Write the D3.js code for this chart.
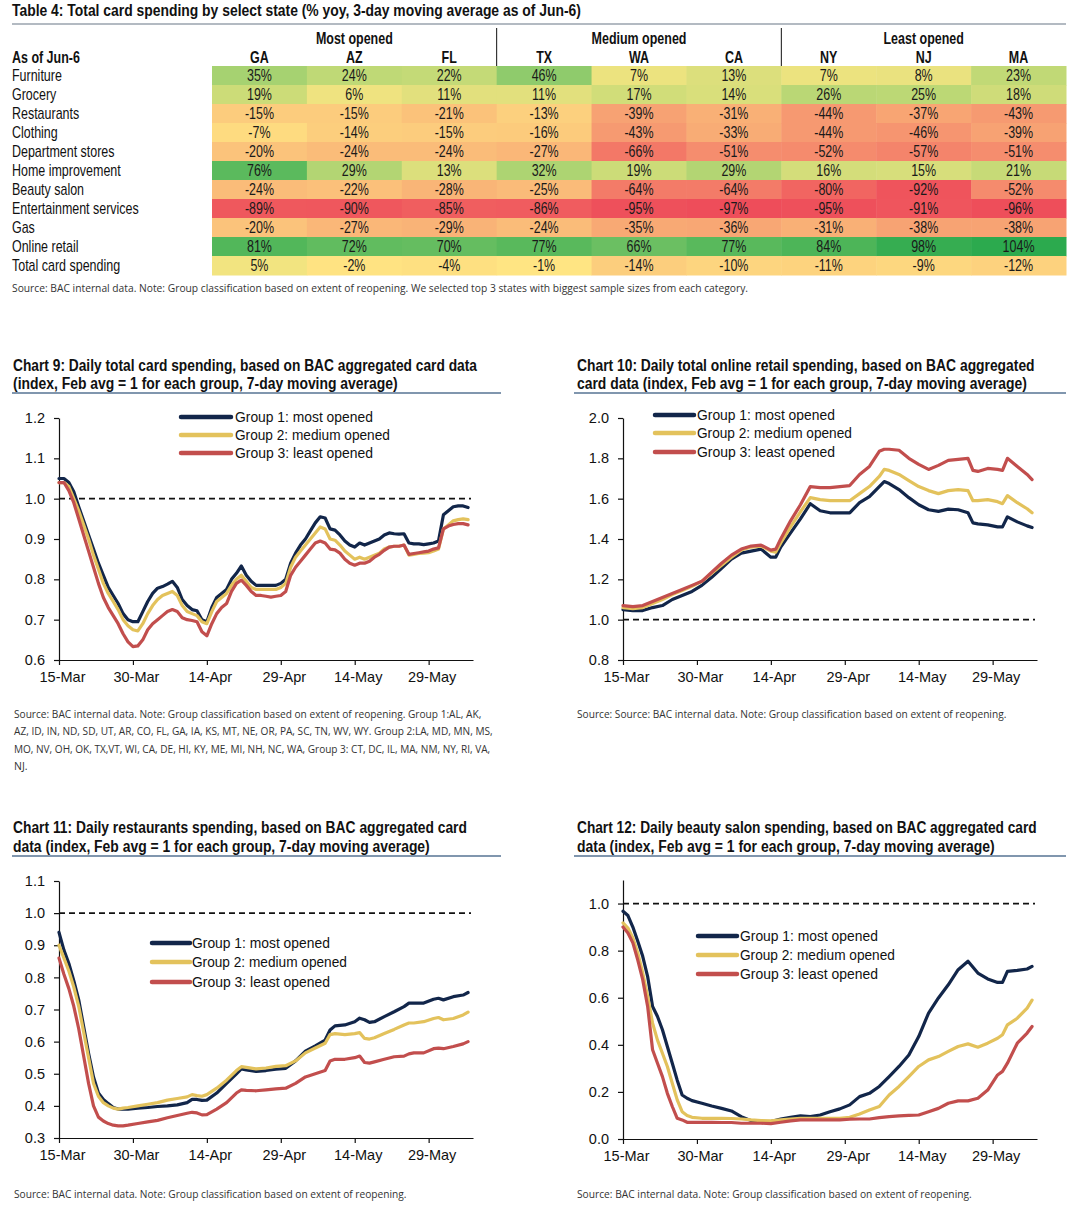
<!DOCTYPE html>
<html><head><meta charset="utf-8">
<script src="https://cdn.jsdelivr.net/npm/d3@7"></script>
<style>body{margin:0;background:#fff}svg{display:block}</style>
</head><body>
<svg id="c" width="1079" height="1227"></svg>
<script>
// ---------------- DATA ----------------
const states = ["GA","AZ","FL","TX","WA","CA","NY","NJ","MA"];
const groupNames = ["Most opened","Medium opened","Least opened"];
const groupStates = [["GA","AZ","FL"],["TX","WA","CA"],["NY","NJ","MA"]];
const categories = ["Furniture","Grocery","Restaurants","Clothing","Department stores","Home improvement","Beauty salon","Entertainment services","Gas","Online retail","Total card spending"];
const furniture       = [35,24,22,46,7,13,7,8,23];
const grocery         = [19,6,11,11,17,14,26,25,18];
const restaurants     = [-15,-15,-21,-13,-39,-31,-44,-37,-43];
const clothing        = [-7,-14,-15,-16,-43,-33,-44,-46,-39];
const departmentStores= [-20,-24,-24,-27,-66,-51,-52,-57,-51];
const homeImprovement = [76,29,13,32,19,29,16,15,21];
const beautySalon     = [-24,-22,-28,-25,-64,-64,-80,-92,-52];
const entertainment   = [-89,-90,-85,-86,-95,-97,-95,-91,-96];
const gas             = [-20,-27,-29,-24,-35,-36,-31,-38,-38];
const onlineRetail    = [81,72,70,77,66,77,84,98,104];
const totalCard       = [5,-2,-4,-1,-14,-10,-11,-9,-12];

const startDate = "2020-03-15";
const xTickDates = ["2020-03-15","2020-03-30","2020-04-14","2020-04-29","2020-05-14","2020-05-29"];
const xEndDate = "2020-06-07";
const legendLabels = ["Group 1: most opened","Group 2: medium opened","Group 3: least opened"];

// Chart 9: total card spending (day offsets from Mar-15)
const days9 = [0,1,2,3,4,5,6,7,8,9,10,11,12,13,14,15,16,17,18,19,20,21,22,23,24,25,26,27,28,29,30,31,32,33,34,35,36,37,38,39,40,41,42,43,44,45,46,47,48,49,50,51,52,53,54,55,56,57,58,59,60,61,62,63,64,65,66,67,68,69,70,71,72,73,74,75,76,77,78,79,80,81,82,83];
const total_g1 = [1.05,1.05,1.04,1.017,0.98,0.945,0.91,0.875,0.84,0.81,0.78,0.76,0.74,0.715,0.70,0.695,0.695,0.72,0.745,0.765,0.778,0.782,0.788,0.795,0.78,0.75,0.735,0.725,0.722,0.70,0.695,0.73,0.755,0.765,0.775,0.80,0.815,0.833,0.81,0.795,0.785,0.785,0.785,0.785,0.785,0.79,0.80,0.84,0.865,0.885,0.90,0.92,0.94,0.955,0.952,0.925,0.922,0.91,0.895,0.885,0.88,0.89,0.885,0.89,0.895,0.90,0.91,0.915,0.913,0.912,0.913,0.89,0.888,0.888,0.886,0.888,0.89,0.895,0.96,0.97,0.98,0.982,0.982,0.978];
const total_g2 = [1.04,1.04,1.03,1.0,0.97,0.935,0.9,0.86,0.825,0.79,0.765,0.745,0.725,0.70,0.685,0.675,0.672,0.69,0.715,0.735,0.75,0.76,0.765,0.77,0.76,0.735,0.72,0.715,0.71,0.695,0.69,0.72,0.745,0.755,0.765,0.785,0.80,0.81,0.795,0.78,0.775,0.775,0.775,0.775,0.775,0.78,0.79,0.83,0.855,0.87,0.885,0.90,0.915,0.93,0.925,0.90,0.897,0.885,0.87,0.86,0.85,0.855,0.85,0.855,0.86,0.865,0.875,0.88,0.882,0.882,0.885,0.86,0.862,0.864,0.865,0.866,0.87,0.875,0.925,0.935,0.945,0.948,0.95,0.948];
const total_g3 = [1.04,1.04,1.02,0.99,0.95,0.91,0.87,0.83,0.79,0.755,0.73,0.71,0.69,0.665,0.645,0.633,0.635,0.65,0.675,0.69,0.70,0.71,0.72,0.725,0.72,0.705,0.70,0.698,0.695,0.67,0.66,0.69,0.715,0.73,0.74,0.77,0.79,0.798,0.785,0.77,0.76,0.76,0.758,0.756,0.758,0.76,0.77,0.81,0.83,0.845,0.86,0.875,0.89,0.895,0.89,0.875,0.873,0.865,0.85,0.84,0.835,0.84,0.84,0.845,0.855,0.862,0.872,0.88,0.882,0.882,0.885,0.862,0.864,0.866,0.868,0.87,0.875,0.878,0.925,0.932,0.936,0.938,0.938,0.935];

// Chart 10: online retail
const days10 = [0,2,4,6,8,10,12,14,16,18,20,22,24,26,28,30,31,32,34,36,38,40,42,44,46,48,50,52,53,54,56,58,60,62,64,66,68,70,71,72,74,76,77,78,80,82,83];
const online_g1 = [1.05,1.045,1.045,1.06,1.07,1.10,1.12,1.14,1.17,1.21,1.255,1.30,1.33,1.34,1.35,1.31,1.31,1.36,1.43,1.50,1.575,1.54,1.53,1.53,1.53,1.58,1.61,1.66,1.685,1.675,1.645,1.605,1.57,1.545,1.537,1.548,1.545,1.53,1.48,1.475,1.47,1.46,1.46,1.51,1.485,1.465,1.457];
const online_g2 = [1.06,1.055,1.06,1.08,1.10,1.125,1.145,1.165,1.19,1.23,1.27,1.31,1.345,1.36,1.365,1.34,1.335,1.38,1.46,1.535,1.605,1.595,1.59,1.59,1.59,1.625,1.66,1.71,1.745,1.74,1.72,1.69,1.66,1.64,1.625,1.64,1.645,1.64,1.59,1.59,1.595,1.585,1.575,1.615,1.58,1.55,1.53];
const online_g3 = [1.07,1.065,1.07,1.09,1.11,1.13,1.15,1.17,1.19,1.235,1.28,1.32,1.35,1.365,1.37,1.345,1.35,1.40,1.49,1.57,1.66,1.655,1.655,1.66,1.665,1.72,1.76,1.835,1.845,1.845,1.84,1.80,1.77,1.745,1.765,1.79,1.795,1.80,1.74,1.735,1.75,1.745,1.74,1.80,1.76,1.72,1.695];

// Chart 11: restaurants
const days11 = [0,1,2,3,4,5,6,7,8,9,10,11,12,13,14,16,18,20,22,24,26,27,28,29,30,32,34,36,37,38,40,42,44,46,48,50,52,54,55,56,58,60,61,62,63,64,66,68,70,71,72,74,76,77,78,80,82,83];
const rest_g1 = [0.94,0.885,0.843,0.79,0.73,0.647,0.564,0.49,0.44,0.42,0.407,0.395,0.39,0.39,0.39,0.393,0.395,0.398,0.40,0.403,0.41,0.42,0.42,0.417,0.418,0.44,0.47,0.50,0.515,0.512,0.507,0.51,0.514,0.517,0.54,0.57,0.587,0.605,0.636,0.649,0.652,0.662,0.673,0.668,0.66,0.662,0.678,0.693,0.709,0.72,0.72,0.72,0.732,0.735,0.73,0.74,0.745,0.753];
const rest_g2 = [0.90,0.86,0.82,0.77,0.71,0.63,0.55,0.47,0.43,0.41,0.40,0.393,0.39,0.393,0.395,0.40,0.405,0.41,0.418,0.423,0.428,0.435,0.432,0.43,0.435,0.455,0.48,0.51,0.522,0.52,0.515,0.518,0.523,0.525,0.54,0.565,0.58,0.595,0.622,0.625,0.622,0.625,0.628,0.61,0.608,0.612,0.625,0.638,0.652,0.658,0.658,0.662,0.672,0.675,0.668,0.672,0.683,0.692];
const rest_g3 = [0.86,0.81,0.765,0.71,0.64,0.555,0.47,0.40,0.365,0.353,0.345,0.34,0.338,0.338,0.34,0.345,0.35,0.355,0.363,0.37,0.377,0.38,0.378,0.372,0.373,0.39,0.41,0.44,0.45,0.448,0.447,0.45,0.453,0.455,0.47,0.49,0.50,0.51,0.54,0.545,0.545,0.55,0.555,0.535,0.533,0.537,0.545,0.553,0.555,0.562,0.565,0.565,0.578,0.58,0.578,0.585,0.593,0.60];

// Chart 12: beauty salon
const days12 = [0,1,2,3,4,5,6,7,8,9,10,11,12,13,14,16,18,20,22,24,26,28,30,32,34,36,38,40,42,44,46,48,50,52,54,56,58,60,62,64,66,68,70,72,74,76,77,78,80,82,83];
const beauty_g1 = [0.967,0.949,0.90,0.84,0.776,0.69,0.563,0.52,0.464,0.393,0.322,0.25,0.187,0.173,0.163,0.152,0.14,0.13,0.119,0.095,0.078,0.071,0.074,0.085,0.092,0.098,0.095,0.102,0.116,0.128,0.145,0.18,0.194,0.223,0.265,0.308,0.357,0.435,0.535,0.599,0.655,0.719,0.755,0.705,0.68,0.665,0.665,0.712,0.716,0.722,0.733];
const beauty_g2 = [0.918,0.896,0.854,0.79,0.705,0.606,0.492,0.42,0.364,0.308,0.237,0.166,0.116,0.10,0.092,0.088,0.088,0.088,0.087,0.085,0.081,0.078,0.077,0.081,0.085,0.088,0.088,0.088,0.088,0.088,0.092,0.106,0.123,0.138,0.187,0.223,0.265,0.308,0.336,0.35,0.372,0.393,0.404,0.39,0.407,0.428,0.443,0.485,0.513,0.556,0.59];
const beauty_g3 = [0.90,0.875,0.833,0.76,0.677,0.563,0.379,0.322,0.265,0.194,0.138,0.088,0.081,0.071,0.071,0.071,0.071,0.07,0.07,0.067,0.067,0.067,0.065,0.071,0.077,0.081,0.081,0.081,0.081,0.081,0.084,0.085,0.085,0.091,0.095,0.098,0.10,0.102,0.116,0.13,0.152,0.162,0.162,0.173,0.208,0.272,0.287,0.322,0.407,0.45,0.478];

const yTicks9  = [0.6,0.7,0.8,0.9,1.0,1.1,1.2];
const yTicks10 = [0.8,1.0,1.2,1.4,1.6,1.8,2.0];
const yTicks11 = [0.3,0.4,0.5,0.6,0.7,0.8,0.9,1.0,1.1];
const yTicks12 = [0.0,0.2,0.4,0.6,0.8,1.0];

const tableTitle = "Table 4: Total card spending by select state (% yoy, 3-day moving average as of Jun-6)";
const tableSource = "Source: BAC internal data. Note: Group classification based on extent of reopening. We selected top 3 states with biggest sample sizes from each category.";
const source9 = ["Source: BAC internal data. Note: Group classification based on extent of reopening. Group 1:AL, AK,",
  "AZ, ID, IN, ND, SD, UT, AR, CO, FL, GA, IA, KS, MT, NE, OR, PA, SC, TN, WV, WY. Group 2:LA, MD, MN, MS,",
  "MO, NV, OH, OK, TX,VT, WI, CA, DE, HI, KY, ME, MI, NH, NC, WA, Group 3: CT, DC, IL, MA, NM, NY, RI, VA,",
  "NJ."];
const source10 = ["Source: Source: BAC internal data. Note: Group classification based on extent of reopening."];
const source11 = ["Source: BAC internal data. Note: Group classification based on extent of reopening."];
const source12 = ["Source: BAC internal data. Note: Group classification based on extent of reopening."];

// ---------------- FONTS / HELPERS ----------------
const SANS = "'Liberation Sans', Arial, sans-serif";
const SMALL = "'Open Sans', 'Liberation Sans', sans-serif";
const NARROW_SX = 0.78;   // emulate Arial Narrow by horizontal compression
const TFS = 16;           // table font size

function squeeze(sel, x, y, sx){
  sel.attr("x",0).attr("y",0).attr("transform",`translate(${x},${y}) scale(${sx},1)`);
  return sel;
}
function fitWidth(sel, x, y, target){
  const w = sel.node().getComputedTextLength();
  return squeeze(sel, x, y, w>0 ? target/w : 1);
}

const svg = d3.select("#c");
svg.append("rect").attr("width",1079).attr("height",1227).attr("fill","#fff");

// ---------------- TABLE ----------------
const tableValues = [furniture,grocery,restaurants,clothing,departmentStores,homeImprovement,beautySalon,entertainment,gas,onlineRetail,totalCard];
const colX = d3.scaleBand().domain(states).range([212,1066]);
const rowY = d3.scaleBand().domain(categories).range([66,275]);
const heat = d3.scaleLinear().domain([-97,-50,0,25,50,104])
  .range(["#EE4D5A","#F58E6E","#FFE783","#BCD875","#86C86A","#2CAA4E"]).clamp(true);

fitWidth(svg.append("text").attr("dy","0.35em")
  .attr("font-family",SANS).attr("font-weight","bold").attr("font-size",16.5).attr("fill","#111").text(tableTitle), 12, 10, 569);
svg.append("line").attr("x1",12).attr("x2",1066).attr("y1",24).attr("y2",24).attr("stroke","#9aa3ae").attr("stroke-width",1.5);

const tg = svg.append("g");
const cells = [];
categories.forEach((c,i)=>tableValues[i].forEach((v,j)=>cells.push({cat:c,st:states[j],v})));
tg.selectAll("rect.cell").data(cells).join("rect").attr("class","cell")
  .attr("x",d=>colX(d.st)).attr("y",d=>rowY(d.cat))
  .attr("width",colX.bandwidth()+0.5).attr("height",rowY.bandwidth()+0.5)
  .attr("fill",d=>heat(d.v));
tg.selectAll("text.val").data(cells).join("text").attr("class","val")
  .attr("dy","0.36em").attr("text-anchor","middle")
  .attr("font-family",SANS).attr("font-size",TFS).attr("fill","#1a1a1a")
  .text(d=>d.v+"%")
  .each(function(d){ squeeze(d3.select(this), colX(d.st)+colX.bandwidth()/2, rowY(d.cat)+rowY.bandwidth()/2, NARROW_SX); });
tg.selectAll("text.cat").data(categories).join("text").attr("class","cat")
  .attr("dy","0.36em")
  .attr("font-family",SANS).attr("font-size",TFS).attr("fill","#111").text(d=>d)
  .each(function(d){ squeeze(d3.select(this), 12, rowY(d)+rowY.bandwidth()/2, NARROW_SX); });
tg.selectAll("text.st").data(states).join("text").attr("class","st")
  .attr("dy","0.36em").attr("text-anchor","middle")
  .attr("font-family",SANS).attr("font-weight","bold").attr("font-size",TFS).attr("fill","#111").text(d=>d)
  .each(function(d){ squeeze(d3.select(this), colX(d)+colX.bandwidth()/2, 57, NARROW_SX); });
squeeze(tg.append("text").attr("dy","0.36em")
  .attr("font-family",SANS).attr("font-weight","bold").attr("font-size",TFS).attr("fill","#111").text("As of Jun-6"), 12, 57, NARROW_SX);
groupNames.forEach((g,i)=>{
  const a=colX(groupStates[i][0]), b=colX(groupStates[i][2])+colX.bandwidth();
  squeeze(tg.append("text").attr("dy","0.36em").attr("text-anchor","middle")
    .attr("font-family",SANS).attr("font-weight","bold").attr("font-size",TFS).attr("fill","#111").text(g), (a+b)/2, 38, NARROW_SX);
  if(i>0) tg.append("line").attr("x1",a).attr("x2",a).attr("y1",28).attr("y2",66).attr("stroke","#111").attr("stroke-width",1);
});
fitWidth(svg.append("text").attr("dy","0.35em")
  .attr("font-family",SMALL).attr("font-size",10.5).attr("fill","#333").text(tableSource), 12, 288, 737);

// ---------------- LINE CHARTS ----------------
const parse = d3.timeParse("%Y-%m-%d");
const t0 = parse(startDate);
const dayDate = d => d3.timeDay.offset(t0, d);
const colors = ["#12264A","#E3C25C","#C24E4D"];

const charts = [
  {title:["Chart 9: Daily total card spending, based on BAC aggregated card data","(index, Feb avg = 1 for each group, 7-day moving average)"],
   tx:13, ty:[365,383], tl:[464,385], ul:[12,501,393],
   px:[59,473], py:[660,418], yDomain:[0.6,1.2], yTicks:yTicks9,
   leg:{s0:181,s1:231,t:235,y:[417,435,453]},
   days:days9, series:[total_g1,total_g2,total_g3],
   src:{x:14,y:[714,731.5,749,766.5],lines:source9,lens:[468,479,477,0]}},
  {title:["Chart 10: Daily total online retail spending, based on BAC aggregated","card data (index, Feb avg = 1 for each group, 7-day moving average)"],
   tx:577, ty:[365,383], tl:[458,450], ul:[574,1066,393],
   px:[623,1037], py:[660,418], yDomain:[0.8,2.0], yTicks:yTicks10,
   leg:{s0:655,s1:694,t:697,y:[415,433,452]},
   days:days10, series:[online_g1,online_g2,online_g3],
   src:{x:577,y:[714],lines:source10,lens:[430]}},
  {title:["Chart 11: Daily restaurants spending, based on BAC aggregated card","data (index, Feb avg = 1 for each group, 7-day moving average)"],
   tx:13, ty:[827,846], tl:[454,417], ul:[12,501,856],
   px:[59,473], py:[1138,881], yDomain:[0.3,1.1], yTicks:yTicks11,
   leg:{s0:152,s1:190,t:192,y:[943,962,982]},
   days:days11, series:[rest_g1,rest_g2,rest_g3],
   src:{x:14,y:[1194],lines:source11,lens:[393]}},
  {title:["Chart 12: Daily beauty salon spending, based on BAC aggregated card","data (index, Feb avg = 1 for each group, 7-day moving average)"],
   tx:577, ty:[827,846], tl:[460,418], ul:[574,1066,856],
   px:[623,1037], py:[1139,880], yDomain:[0,1.1], yTicks:yTicks12,
   leg:{s0:698,s1:737,t:740,y:[936,955,974]},
   days:days12, series:[beauty_g1,beauty_g2,beauty_g3],
   src:{x:577,y:[1194],lines:source12,lens:[395]}}
];

charts.forEach(c=>{
  const g = svg.append("g");
  c.title.forEach((t,i)=>fitWidth(g.append("text").attr("dy","0.35em")
    .attr("font-family",SANS).attr("font-weight","bold").attr("font-size",16.5).attr("fill","#111").text(t), c.tx, c.ty[i], c.tl[i]));
  g.append("line").attr("x1",c.ul[0]).attr("x2",c.ul[1]).attr("y1",c.ul[2]).attr("y2",c.ul[2])
    .attr("stroke","#8096AE").attr("stroke-width",2);

  const x = d3.scaleTime().domain([t0, parse(xEndDate)]).range(c.px);
  const y = d3.scaleLinear().domain(c.yDomain).range(c.py);

  const ya = g.append("g").attr("transform",`translate(${c.px[0]},0)`)
    .call(d3.axisLeft(y).tickValues(c.yTicks).tickSize(5).tickSizeOuter(0).tickPadding(9).tickFormat(d3.format(".1f")));
  const xa = g.append("g").attr("transform",`translate(0,${c.py[0]})`)
    .call(d3.axisBottom(x).tickValues(xTickDates.map(parse)).tickSize(5).tickSizeOuter(0).tickPadding(7).tickFormat(d3.timeFormat("%-d-%b")));
  [ya,xa].forEach(a=>{
    a.attr("font-family",SANS).attr("font-size",14.5);
    a.selectAll("path,line").attr("stroke","#111").attr("stroke-width",1.2);
    a.selectAll("text").attr("fill","#111");
  });
  xa.selectAll("text").attr("dx","3");

  g.append("line").attr("x1",c.px[0]).attr("x2",c.px[1]-2).attr("y1",y(1)).attr("y2",y(1))
    .attr("stroke","#111").attr("stroke-width",1.8).attr("stroke-dasharray","6,4");

  const line = d3.line().x(d=>x(dayDate(d[0]))).y(d=>y(d[1])).curve(d3.curveLinear);
  c.series.forEach((s,k)=>{
    g.append("path").datum(c.days.map((d,i)=>[d,s[i]]))
      .attr("d",line).attr("fill","none").attr("stroke",colors[k]).attr("stroke-width",3.2)
      .attr("stroke-linejoin","round").attr("stroke-linecap","round");
  });

  legendLabels.forEach((l,k)=>{
    g.append("line").attr("x1",c.leg.s0).attr("x2",c.leg.s1).attr("y1",c.leg.y[k]).attr("y2",c.leg.y[k])
      .attr("stroke",colors[k]).attr("stroke-width",4.5).attr("stroke-linecap","round");
    fitWidth(g.append("text").attr("dy","0.35em")
      .attr("font-family",SANS).attr("font-size",14.5).attr("fill","#111").text(l), c.leg.t, c.leg.y[k],
      k===1 ? 155 : 138);
  });

  c.src.lines.forEach((t,i)=>{
    const tx = g.append("text").attr("x",c.src.x).attr("y",c.src.y[i]).attr("dy","0.35em")
      .attr("font-family",SMALL).attr("font-size",10.5).attr("fill","#333").text(t);
    if(c.src.lens[i]) fitWidth(tx, c.src.x, c.src.y[i], c.src.lens[i]);
  });
});
</script>
</body></html>
